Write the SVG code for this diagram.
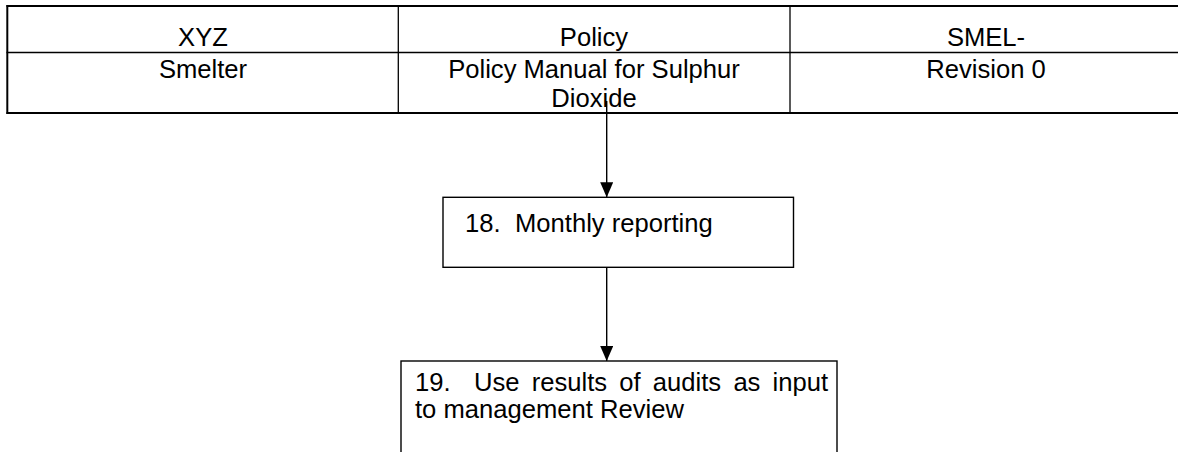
<svg xmlns="http://www.w3.org/2000/svg" width="1178" height="452" viewBox="0 0 1178 452">
  <style>
    .t { font-family: "Liberation Sans", Arial, sans-serif; font-size: 25.6px; fill: #000; }
    .c { text-anchor: middle; }
    .thick { stroke: #000; stroke-width: 2; fill: none; }
    .thin { stroke: #000; stroke-width: 1.3; fill: none; }
    .box { stroke: #000; stroke-width: 1.4; fill: #fff; }
    .conn { stroke: #000; stroke-width: 1.4; fill: none; }
  </style>
  <defs>
    <marker id="arrow" markerUnits="userSpaceOnUse" markerWidth="15" markerHeight="13" refX="15" refY="6.5" orient="auto" viewBox="0 0 15 13">
      <path d="M0,0 L15,6.5 L0,13 Z" fill="#000"/>
    </marker>
  </defs>
  <rect width="1178" height="452" fill="#fff"/>

  <g id="header">
    <line class="thick" x1="6.5" y1="6" x2="1178" y2="6"/>
    <line class="thin" x1="6.5" y1="52.5" x2="1178" y2="52.5"/>
    <line class="thick" x1="6.5" y1="113" x2="1178" y2="113"/>
    <line class="thick" x1="7.3" y1="5" x2="7.3" y2="114"/>
    <line class="thin" x1="398.3" y1="6" x2="398.3" y2="113"/>
    <line class="thin" x1="790" y1="6" x2="790" y2="113"/>
    <text class="t c" x="203" y="46">XYZ</text>
    <text class="t c" x="203" y="77.5">Smelter</text>
    <text class="t c" x="594" y="46">Policy</text>
    <text class="t c" x="594" y="77.5">Policy Manual for Sulphur</text>
    <text class="t c" x="594" y="106.5">Dioxide</text>
    <text class="t c" x="986" y="46">SMEL-</text>
    <text class="t c" x="986" y="77.5">Revision 0</text>
  </g>

  <g id="node18">
    <rect class="box" x="443" y="197.3" width="350.5" height="70"/>
    <text class="t" x="465" y="231.7">18.</text>
    <text class="t" x="515" y="231.7">Monthly reporting</text>
  </g>

  <g id="node19">
    <rect class="box" x="401" y="361" width="436" height="100"/>
    <text class="t" x="415" y="390.7">19.</text>
    <text class="t" x="474" y="390.7" word-spacing="5.1">Use results of audits as input</text>
    <text class="t" x="415" y="418.3">to management Review</text>
  </g>

  <g id="connectors">
    <line class="conn" x1="606.7" y1="101" x2="606.7" y2="197.3" marker-end="url(#arrow)"/>
    <line class="conn" x1="606.7" y1="267.3" x2="606.7" y2="361" marker-end="url(#arrow)"/>
  </g>
</svg>
